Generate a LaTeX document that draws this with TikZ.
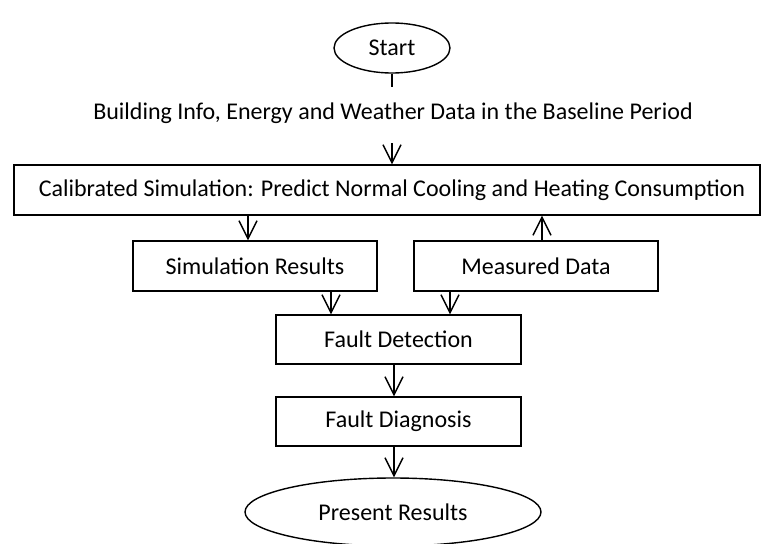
\documentclass[tikz,border=0pt]{standalone}
\usepackage{fontspec}
\setmainfont{Carlito}
\usetikzlibrary{shapes.geometric,arrows.meta}
\begin{document}
\begin{tikzpicture}[x=1pt,y=-1pt,
  every node/.style={font=\fontsize{24}{27}\selectfont, inner sep=0pt},
  box/.style={draw, line width=1.4pt, minimum height=50pt},
  oval/.style={draw, ellipse, line width=1.4pt},
  conn/.style={line width=1.4pt},
  arr/.style={conn, -{Straight Barb[length=18pt,width=18pt,line width=1.4pt]}}]
\useasboundingbox (0,0) rectangle (762,543);
\node[oval, minimum width=116pt, minimum height=50pt] (start) at (392,48) {Start};
\coordinate (stubend) at (392,87);
\node[minimum height=60pt] (info) at (393,113) {Building Info, Energy and Weather Data in the Baseline Period};
\node[box, minimum width=746pt] (calib) at (387,190) {\hspace*{10pt}Calibrated Simulation: Predict Normal Cooling and Heating Consumption};
\node[box, minimum width=244pt] (sim) at (255,266) {Simulation Results};
\node[box, minimum width=244pt] (meas) at (536,266) {Measured Data};
\node[box, minimum width=245pt, minimum height=49pt] (fd) at (398.5,339.5) {Fault Detection};
\node[box, minimum width=245pt, minimum height=49pt] (fdiag) at (398.5,421.5) {Fault Diagnosis};
\node[oval, minimum width=296pt, minimum height=68pt] (pres) at (393,512) {Present Results};
\draw[conn] (start.south) -- (stubend);
\draw[arr] ([xshift=-1pt]info.south) -- ([xshift=-1pt]info.south |- calib.north);
\draw[arr] ([xshift=-7pt]sim.north |- calib.south) -- ([xshift=-7pt]sim.north);
\draw[arr] ([xshift=6pt]meas.north) -- ([xshift=6pt]meas.north |- calib.south);
\draw[arr] ([xshift=76pt]sim.south) -- ([xshift=76pt]sim.south |- fd.north);
\draw[arr] ([xshift=-86pt]meas.south) -- ([xshift=-86pt]meas.south |- fd.north);
\draw[arr] ([xshift=-4.5pt]fd.south) -- ([xshift=-4.5pt]fdiag.north);
\draw[arr] ([xshift=-4.5pt]fdiag.south) -- ([xshift=-4.5pt]fdiag.south |- pres.north);
\end{tikzpicture}
\end{document}
